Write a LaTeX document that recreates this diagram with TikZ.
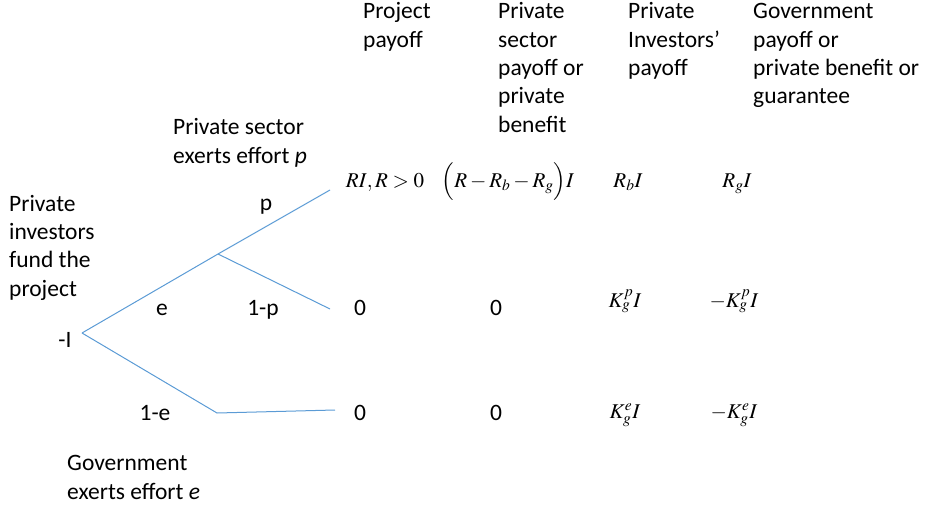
\documentclass[tikz,border=0pt]{standalone}
\usepackage{mathptmx}
\usepackage[no-math]{fontspec}
\setmainfont{Carlito}
\definecolor{branch}{RGB}{91,155,213}
\tikzset{
	txt/.style={anchor=base west, align=left, inner sep=0pt, font=\fontsize{23.5}{28.3}\selectfont},
	lbl/.style={anchor=base, inner sep=0pt, font=\fontsize{23.5}{28}\selectfont},
	pay/.style={anchor=base, inner sep=0pt, font=\fontsize{21}{26}\selectfont},
	edge/.style={branch, line width=1pt}
}
\begin{document}
\begin{tikzpicture}[x=1pt, y=-1pt]
	\useasboundingbox (0, 0) rectangle (941, 505);
	% headers (base = last line)
	\node[txt] (hproj) at (363, 47.3) {Project\\payoff};
	\node[txt] (hpriv) at (498, 132.2) {Private\\sector\\payoff or\\private\\benefit};
	\node[txt] (hinv) at (628, 75.6) {Private\\Investors’\\payoff};
	\node[txt] (hgov) at (753, 103.9) {Government\\payoff or\\private benefit or\\guarantee};
	% movers
	\node[txt] (investors) at (9, 296) {Private\\investors\\fund the\\project};
	\node[txt] (sector) at (173, 163.3) {Private sector\\exerts effort \textit{p}};
	\node[txt] (government) at (67, 499) {Government\\exerts effort \textit{e}};
	% tree
	\coordinate (root) at (82, 333);
	\coordinate (effort) at (218, 254);
	\coordinate (noeffort) at (217, 413);
	\coordinate (success) at (330, 190);
	\coordinate (failure) at (330, 309);
	\coordinate (fallback) at (335, 410);
	\draw[edge] (root) -- (effort) -- (success);
	\draw[edge] (effort) -- (failure);
	\draw[edge] (root) -- (noeffort) -- (fallback);
	\node[lbl] (minusI) at (65, 347) {-I};
	\node[lbl] (e) at (162, 315) {e};
	\node[lbl] (oneminuse) at (155, 420) {1-e};
	\node[lbl] (p) at (266, 210) {p};
	\node[lbl] (oneminusp) at (263, 315) {1-p};
	% payoffs, p
	\node[pay] (projp) at (385, 187) {$RI, R>0$};
	\node[pay] (privp) at (508, 187) {$\Bigl(R-R_b-R_g\Bigr)I$};
	\node[pay] (invp) at (628, 187) {$R_bI$};
	\node[pay] (govp) at (737, 187) {$R_gI$};
	% payoffs, 1-p
	\node[lbl] (projq) at (360, 315) {0};
	\node[lbl] (privq) at (496, 315) {0};
	\node[pay] (invq) at (625, 307) {$K_g^pI$};
	\node[pay] (govq) at (734, 307) {$-K_g^pI$};
	% payoffs, 1-e
	\node[lbl] (proje) at (360, 420) {0};
	\node[lbl] (prive) at (496, 420) {0};
	\node[pay] (inve) at (625, 418) {$K_g^eI$};
	\node[pay] (gove) at (734, 418) {$-K_g^eI$};
\end{tikzpicture}
\end{document}
